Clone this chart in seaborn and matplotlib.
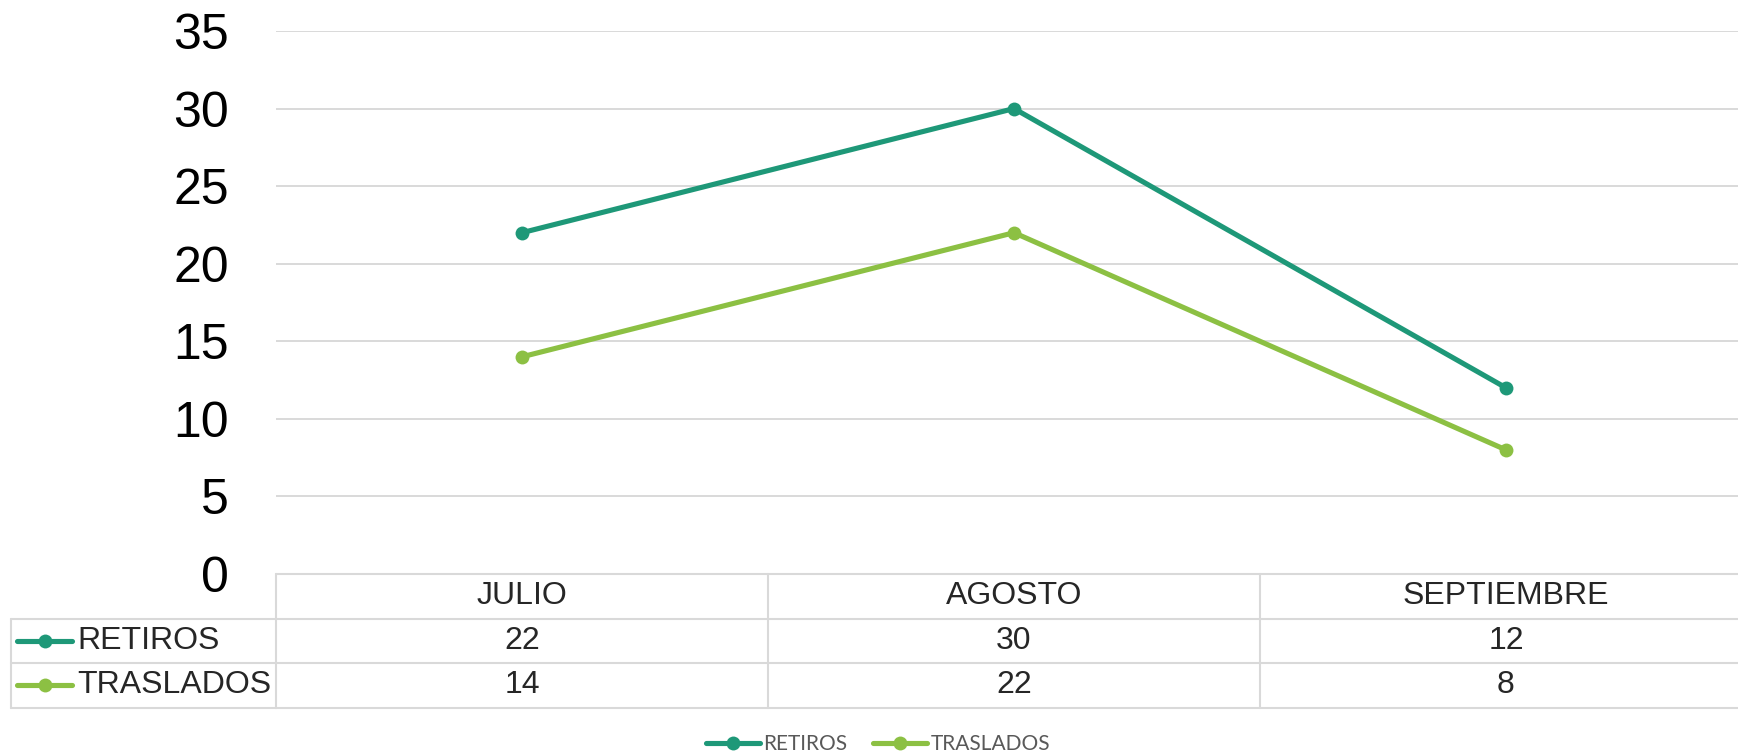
import matplotlib
matplotlib.use("Agg")
import matplotlib.pyplot as plt
import matplotlib.transforms as mtransforms
from matplotlib.lines import Line2D
import pandas as pd
import seaborn as sns

# Data
months = ["JULIO", "AGOSTO", "SEPTIEMBRE"]
retiros = [22, 30, 12]
traslados = [14, 22, 8]
series_names = ["RETIROS", "TRASLADOS"]
y_ticks = [0, 5, 10, 15, 20, 25, 30, 35]

palette = {"RETIROS": "#1E9878", "TRASLADOS": "#8CC043"}
grid_color = "#D9D9D9"
line_w = 3.7
mark_s = 10

sns.set_style("white")
plt.rcParams["font.family"] = ["Liberation Sans", "DejaVu Sans"]

W, H = 1738, 754
fig = plt.figure(figsize=(W / 100, H / 100), dpi=100)

# plot area in pixels (the last category column runs slightly past the right edge)
ax_left, ax_right = 276, 1752
ax_top, ax_bottom = 31, 574
ax = fig.add_axes([ax_left / W, 1 - ax_bottom / H,
                   (ax_right - ax_left) / W, (ax_bottom - ax_top) / H])

df = pd.DataFrame({
    "pos": list(range(len(months))) * 2,
    "valor": retiros + traslados,
    "serie": [series_names[0]] * len(months) + [series_names[1]] * len(months),
})

sns.lineplot(data=df, x="pos", y="valor", hue="serie", palette=palette,
             marker="o", markersize=mark_s, markeredgewidth=0, linewidth=line_w,
             ax=ax, legend=False)

ax.set_xlim(-0.5, len(months) - 0.5)
ax.set_ylim(0, 35)
ax.set_yticks(y_ticks)
ax.set_xticks([])
ax.set_xlabel("")
ax.set_ylabel("")
ax.tick_params(axis="y", length=0, pad=34, labelsize=36, labelcolor="black")
ax.yaxis.grid(True, color=grid_color, linewidth=1.4)
ax.set_axisbelow(True)
for s in ax.spines.values():
    s.set_visible(False)

# ---- data table under the plot ----
def fy(p):
    return 1 - p / H

def fx(p):
    return p / W

rows = [574, 618.5, 663, 707.5]
table_left = 11
blend = mtransforms.blended_transform_factory(ax.transData, fig.transFigure)
x0, x1 = -0.5, len(months) - 0.5
lw_tab = 1.5

# horizontal rules
fig.add_artist(Line2D([x0, x1], [fy(rows[0])] * 2, transform=blend,
                      color=grid_color, lw=lw_tab, clip_on=False))
for r in rows[1:]:
    fig.add_artist(Line2D([fx(table_left), fx(ax_left)], [fy(r)] * 2,
                          transform=fig.transFigure, color=grid_color,
                          lw=lw_tab, clip_on=False))
    fig.add_artist(Line2D([x0, x1], [fy(r)] * 2, transform=blend,
                          color=grid_color, lw=lw_tab, clip_on=False))
# vertical rules
fig.add_artist(Line2D([fx(table_left)] * 2, [fy(rows[1]), fy(rows[3])],
                      transform=fig.transFigure, color=grid_color,
                      lw=lw_tab, clip_on=False))
for i in range(len(months)):
    fig.add_artist(Line2D([i - 0.5] * 2, [fy(rows[0]), fy(rows[3])],
                          transform=blend, color=grid_color, lw=lw_tab,
                          clip_on=False))

cell_fs = 23
header_y = fy((rows[0] + rows[1]) / 2)
for i, m in enumerate(months):
    fig.text(i, header_y, m, transform=blend, ha="center", va="center",
             fontsize=cell_fs)

for k, (name, vals) in enumerate(zip(series_names, [retiros, traslados])):
    yc = fy((rows[k + 1] + rows[k + 2]) / 2)
    fig.add_artist(Line2D([fx(17), fx(72)], [yc, yc], transform=fig.transFigure,
                          color=palette[name], lw=line_w, solid_capstyle="round",
                          clip_on=False))
    fig.add_artist(Line2D([fx(44.5)], [yc], transform=fig.transFigure,
                          color=palette[name], marker="o", markersize=mark_s,
                          markeredgewidth=0, clip_on=False))
    fig.text(fx(77), yc, name, ha="left", va="center", fontsize=cell_fs)
    for i, v in enumerate(vals):
        fig.text(i, yc, str(v), transform=blend, ha="center", va="center",
                 fontsize=cell_fs)

# ---- legend at the bottom ----
handles = [Line2D([], [], color=palette[n], lw=line_w, marker="o",
                  markersize=mark_s, markeredgewidth=0, solid_capstyle="round")
           for n in series_names]
fig.legend(handles, series_names, loc="center",
           bbox_to_anchor=(878 / W, fy(744)), ncol=2, frameon=False,
           labelcolor="#595959", handlelength=2.6,
           handletextpad=0.15, columnspacing=1.25,
           prop={"family": ["Lato", "DejaVu Sans"], "size": 15})

fig.savefig("out.png", dpi=100)
